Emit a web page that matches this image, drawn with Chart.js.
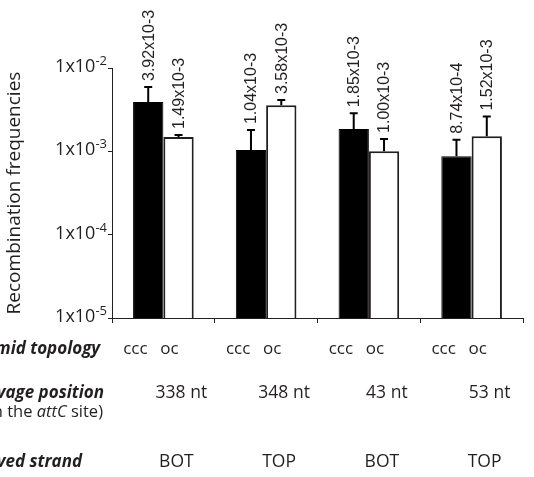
<!DOCTYPE html>
<html>
<head>
<meta charset="utf-8">
<script src="https://cdn.jsdelivr.net/npm/chart.js@4.4.1/dist/chart.umd.min.js"></script>
<style>
    html, body { margin: 0; padding: 0; background: #fff; }
</style>
</head>
<body>
<canvas id="recChart" width="534" height="477"></canvas>
<script>
// Recombination frequencies per cleavage position, ccc vs oc plasmid topology

const cleavagePositions = ['338 nt', '348 nt', '43 nt', '53 nt'];
const cleavedStrands = ['BOT', 'TOP', 'BOT', 'TOP'];
const topologies = ['ccc', 'oc'];

const cccValues = [3.92e-3, 1.04e-3, 1.85e-3, 8.74e-4];
const ocValues = [1.49e-3, 3.58e-3, 1.00e-3, 1.52e-3];

// upper error (SD)
const cccErrors = [2.0e-3, 0.76e-3, 1.01e-3, 0.50e-3];
const ocErrors = [0.08e-3, 0.55e-3, 0.41e-3, 1.09e-3];

const yTicks = [1e-5, 1e-4, 1e-3, 1e-2];

const textColor = '#231f20';
const sansFont = '"Open Sans", "Noto Sans", sans-serif';

function sciLabel(v) {
    // 3.92e-3 -> 3.92x10-3
    return v.toExponential(2).replace('e', 'x10');
}

// error bars + rotated value labels above each bar
const errorBarsPlugin = {
    id: 'errorBars',
    afterDatasetsDraw(chart) {
        const ctx = chart.ctx;
        const yScale = chart.scales.y;
        ctx.save();
        chart.data.datasets.forEach((ds, di) => {
            const meta = chart.getDatasetMeta(di);
            meta.data.forEach((bar, i) => {
                const top = yScale.getPixelForValue(ds.data[i] + ds.errors[i]);
                ctx.strokeStyle = '#000';
                ctx.lineWidth = 2;
                ctx.beginPath();
                ctx.moveTo(bar.x, bar.y);
                ctx.lineTo(bar.x, top);
                ctx.moveTo(bar.x - 4, top);
                ctx.lineTo(bar.x + 4, top);
                ctx.stroke();

                ctx.save();
                ctx.translate(bar.x, top - 6);
                ctx.rotate(-Math.PI / 2);
                ctx.fillStyle = textColor;
                ctx.font = '16px "Liberation Sans", Arial, sans-serif';
                ctx.textAlign = 'left';
                ctx.textBaseline = 'middle';
                ctx.fillText(sciLabel(ds.data[i]), 0, 1);
                ctx.restore();
            });
        });
        ctx.restore();
    }
};

// y tick labels with raised exponent, and the rows of text under the x axis
const labelsPlugin = {
    id: 'tableLabels',
    afterDraw(chart) {
        const ctx = chart.ctx;
        const xScale = chart.scales.x;
        const yScale = chart.scales.y;
        ctx.save();
        ctx.fillStyle = textColor;
        ctx.textBaseline = 'alphabetic';

        // y ticks: 1x10 + superscript exponent
        yTicks.forEach(v => {
            const y = yScale.getPixelForValue(v);
            const exp = String(Math.round(Math.log10(v)));
            ctx.font = '13px ' + sansFont;
            const wExp = ctx.measureText(exp).width;
            ctx.font = '18px ' + sansFont;
            const wBase = ctx.measureText('1x10').width;
            const right = yScale.right - 5;
            ctx.textAlign = 'left';
            ctx.fillText('1x10', right - wExp - wBase, y + 4);
            ctx.font = '13px ' + sansFont;
            ctx.fillText(exp, right - wExp, y - 3);
        });

        // row headers (cut off at the left edge like the original)
        ctx.font = 'italic 700 17px ' + sansFont;
        const headX = 104 - ctx.measureText('Cleavage position').width;
        ctx.textAlign = 'left';
        ctx.fillText('Plasmid topology', headX, 354);
        ctx.fillText('Cleavage position', headX, 398);
        ctx.fillText('Cleaved strand', headX, 467);

        const parts = [
            ['(position in the ', '16.5px ' + sansFont],
            ['attC', 'italic 16.5px ' + sansFont],
            [' site)', '16.5px ' + sansFont]
        ];
        let total = 0;
        parts.forEach(p => { ctx.font = p[1]; total += ctx.measureText(p[0]).width; });
        let px = 103 - total;
        parts.forEach(p => {
            ctx.font = p[1];
            ctx.fillText(p[0], px, 417);
            px += ctx.measureText(p[0]).width;
        });

        // per-category rows
        ctx.textAlign = 'center';
        cleavagePositions.forEach((pos, i) => {
            const cx = xScale.getPixelForValue(i);
            ctx.font = '17px ' + sansFont;
            ctx.fillText(topologies[0], cx - 28, 354);
            ctx.fillText(topologies[1], cx + 6, 354);
            ctx.font = '17.5px ' + sansFont;
            ctx.fillText(pos, cx + 18, 398);
            ctx.fillText(cleavedStrands[i], cx + 13, 467);
        });
        ctx.restore();
    }
};

const ctx = document.getElementById('recChart').getContext('2d');
const recChart = new Chart(ctx, {
    type: 'bar',
    data: {
        labels: cleavagePositions,
        datasets: [{
            label: topologies[0],
            data: cccValues,
            errors: cccErrors,
            backgroundColor: '#000',
            borderColor: '#000',
            borderWidth: 1
        }, {
            label: topologies[1],
            data: ocValues,
            errors: ocErrors,
            backgroundColor: '#fff',
            borderColor: textColor,
            borderWidth: 2
        }]
    },
    options: {
        responsive: false,
        animation: false,
        layout: {
            padding: { top: 68, right: 11, left: 0, bottom: 0 }
        },
        datasets: {
            bar: { barPercentage: 1, categoryPercentage: 0.59, clip: false }
        },
        plugins: {
            legend: { display: false },
            tooltip: { enabled: false }
        },
        scales: {
            x: {
                grid: { offset: true, drawOnChartArea: false, tickLength: 5, color: textColor },
                border: { color: textColor, width: 1 },
                ticks: { display: false },
                afterFit: s => { s.height = 159; }
            },
            y: {
                type: 'logarithmic',
                min: 1e-5,
                max: 1e-2,
                grid: { drawOnChartArea: false, tickLength: 4, color: textColor },
                border: { color: textColor, width: 1 },
                ticks: { display: false },
                afterBuildTicks: s => { s.ticks = yTicks.map(v => ({ value: v })); },
                title: {
                    display: true,
                    text: 'Recombination frequencies',
                    color: textColor,
                    font: { family: sansFont, size: 19 },
                    padding: { top: 3, bottom: 0 }
                },
                afterFit: s => { s.width = 112; }
            }
        }
    },
    plugins: [errorBarsPlugin, labelsPlugin]
});
</script>
</body>
</html>
